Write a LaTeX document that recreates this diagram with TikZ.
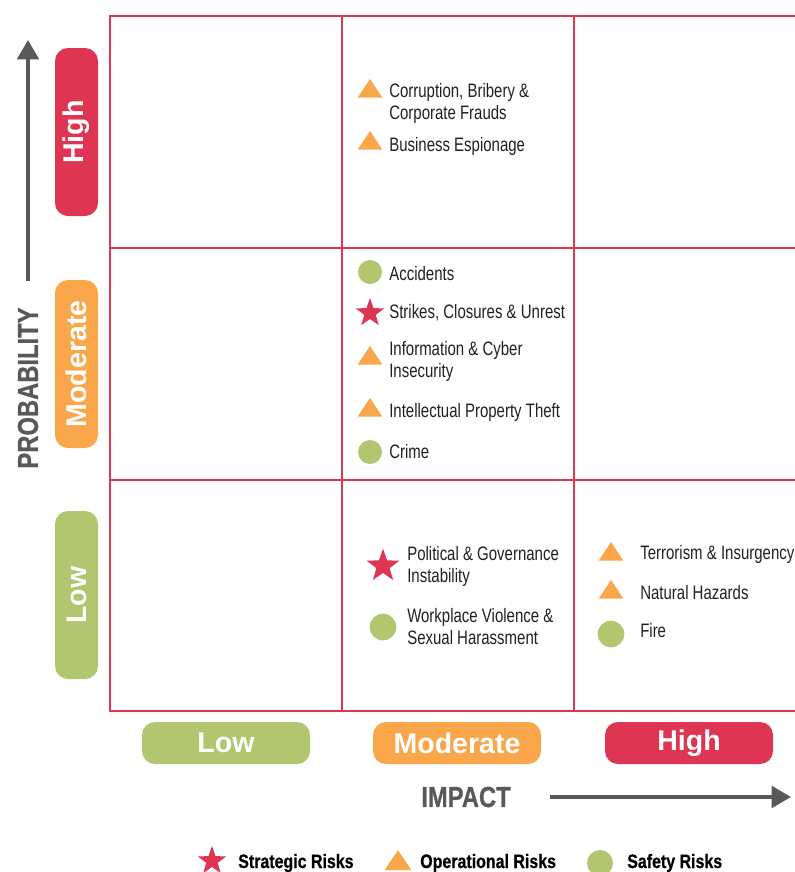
\documentclass[tikz,border=0pt]{standalone}
\usepackage{fontspec}
\setmainfont[FakeStretch=0.77]{Liberation Sans}
\newfontfamily\axisfont[FakeStretch=0.82,BoldFeatures={FakeBold=0.6}]{Liberation Sans}
\newfontfamily\pillfont{Liberation Sans}
\usetikzlibrary{shapes.geometric,arrows.meta}
\definecolor{rred}{HTML}{DD3552}
\definecolor{rorange}{HTML}{F9A74A}
\definecolor{rgreen}{HTML}{B2C56F}
\definecolor{axisgray}{HTML}{58595B}
\definecolor{txt}{HTML}{231F20}
\newcommand\twol[2]{\begin{tabular}[t]{@{}l@{}}#1\\#2\end{tabular}}
\tikzset{
  gridline/.style={draw=rred,line width=1.6pt,line cap=rect},
  pill/.style={rounded corners=9.75pt,inner sep=0,text=white,
    font=\pillfont\bfseries\fontsize{21.4}{24}\selectfont},
  hpill/.style={pill,minimum width=126pt,minimum height=31.5pt},
  vpill/.style={pill,rotate=90,minimum width=126pt,minimum height=32.25pt},
  item/.style={anchor=base west,inner sep=0,text=txt,
    font=\fontsize{14.6}{16.5}\selectfont},
  legtext/.style={anchor=base west,inner sep=0,text=black,
    font=\axisfont\bfseries\fontsize{14.6}{16.5}\selectfont},
  axistitle/.style={inner sep=0,text=axisgray,
    font=\axisfont\bfseries\fontsize{21.75}{24}\selectfont},
  axisarrow/.style={draw=axisgray,line width=3.2pt,
    -{Triangle[width=16pt,length=14.5pt]}},
  circ/.style={circle,fill=rgreen,inner sep=0,minimum size=#1},
  circ/.default=18pt,
  tri/.style={isosceles triangle,isosceles triangle stretches,
    shape border rotate=90,inner sep=0,fill=rorange,
    minimum width=18.5pt,minimum height=14pt},
  bigtri/.style={tri,minimum width=20.25pt,minimum height=15pt},
  strk/.style={star,star points=5,star point ratio=2.5,fill=rred,
    inner sep=0,minimum size=#1},
  strk/.default=22.5pt,
}
\begin{document}
\begin{tikzpicture}[x=0.75pt,y=-0.75pt]
\useasboundingbox (0,0) rectangle (794,872);

% grid
\foreach \yy in {16,248,480,711} \draw[gridline] (110,\yy) -- (794,\yy);
\foreach \xx in {110,342,574} \draw[gridline] (\xx,16) -- (\xx,711);

% probability axis
\node[vpill,fill=rred] (ph) at (76.5,132) {High};
\node[vpill,fill=rorange] (pm) at (76.5,364) {Moderate};
\node[vpill,fill=rgreen] (pl) at (76.5,595) {Low};
\coordinate (ptop) at (28,40);
\coordinate (pbot) at (28,281);
\draw[axisarrow] (pbot) -- (ptop);
\node[axistitle,rotate=90] (prob) at (28,388) {PROBABILITY};

% impact axis
\node[hpill,fill=rgreen] (il) at (226,743) {Low};
\node[hpill,fill=rorange] (im) at (457,743) {Moderate};
\node[hpill,fill=rred] (ih) at (689,743) {High};
\node[axistitle] (imp) at (466,797) {IMPACT};
\coordinate (ileft) at (550,797);
\coordinate (iright) at (791,797);
\draw[axisarrow] (ileft) -- (iright);

% high probability / moderate impact
\node[tri] (s1) at (370,91) {};
\node[item] (t1) at (389,97) {\twol{Corruption, Bribery \&}{Corporate Frauds}};
\node[tri] (s2) at (370,143) {};
\node[item] (t2) at (389,151) {Business Espionage};

% moderate probability / moderate impact
\node[circ] (s3) at (370,272) {};
\node[item] (t3) at (389,280) {Accidents};
\node[strk] (s4) at (370,313) {};
\node[item] (t4) at (389,318) {Strikes, Closures \& Unrest};
\node[tri] (s5) at (370,358) {};
\node[item] (t5) at (389,355) {\twol{Information \& Cyber}{Insecurity}};
\node[tri] (s6) at (370,410) {};
\node[item] (t6) at (389,417) {Intellectual Property Theft};
\node[circ] (s7) at (370,452) {};
\node[item] (t7) at (389,458) {Crime};

% low probability / moderate impact
\node[strk=26pt] (s8) at (383,566) {};
\node[item] (t8) at (407,560) {\twol{Political \& Governance}{Instability}};
\node[circ=20pt] (s9) at (383,627) {};
\node[item] (t9) at (407,622) {\twol{Workplace Violence \&}{Sexual Harassment}};

% low probability / high impact
\node[tri] (s10) at (611,554) {};
\node[item] (t10) at (640,559) {Terrorism \& Insurgency};
\node[tri] (s11) at (611,592) {};
\node[item] (t11) at (640,599) {Natural Hazards};
\node[circ=20pt] (s12) at (611,634) {};
\node[item] (t12) at (640,637) {Fire};

% legend
\node[strk] (l1) at (212,861) {};
\node[legtext] (lt1) at (238,868) {Strategic Risks};
\node[bigtri] (l2) at (398,863) {};
\node[legtext] (lt2) at (420,868) {Operational Risks};
\node[circ=19.5pt] (l3) at (600,863) {};
\node[legtext] (lt3) at (627,868) {Safety Risks};
\end{tikzpicture}
\end{document}
